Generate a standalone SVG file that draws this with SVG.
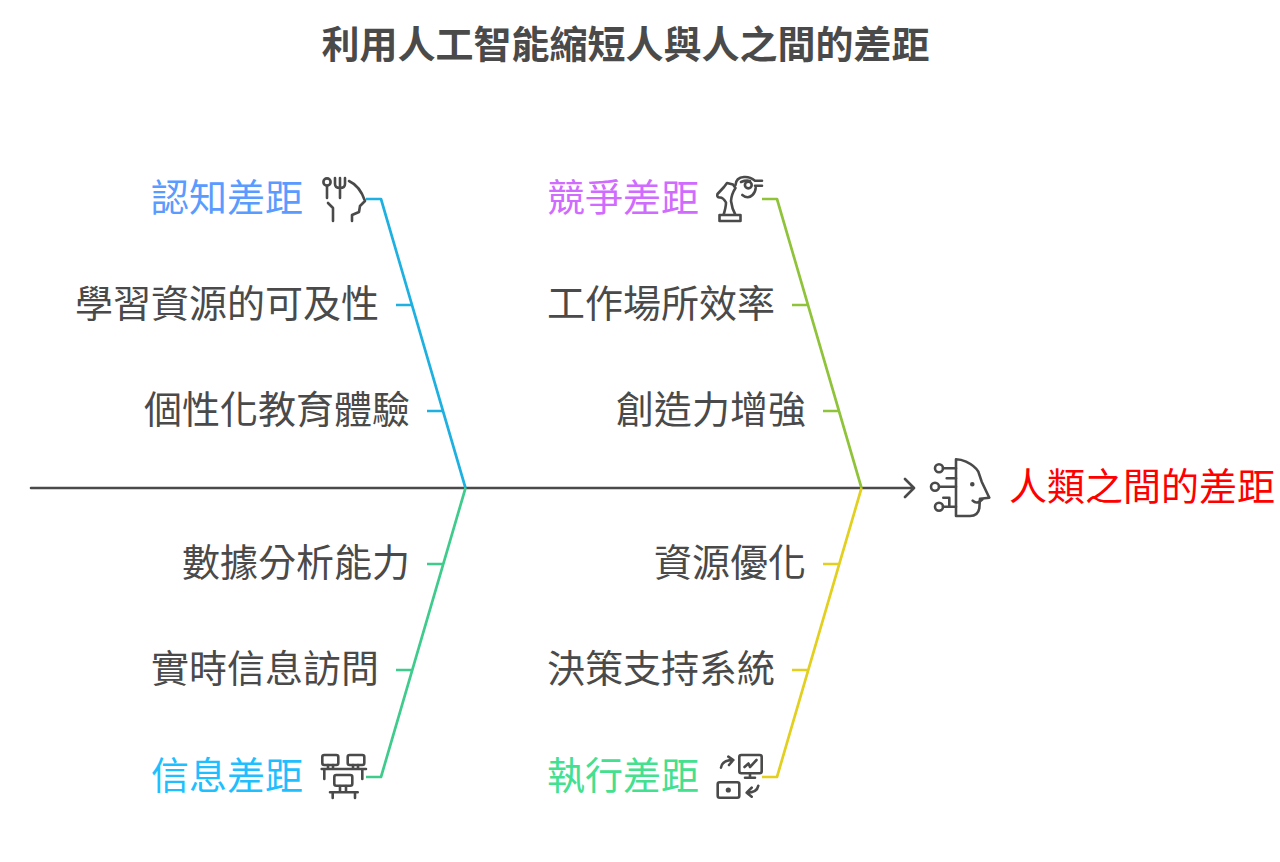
<svg xmlns="http://www.w3.org/2000/svg" width="1280" height="862" viewBox="0 0 1280 862">
<style>
text{font-family:"Noto Sans CJK TC","Noto Sans CJK SC",sans-serif;font-size:38px;fill:#4a4a4a;text-anchor:end;opacity:.999}
.title{font-weight:700;text-anchor:middle}
.wire{fill:none;stroke-width:2.7;stroke-linejoin:round}
.ico{fill:none;stroke:#4a4a4a;stroke-width:2.6;stroke-linecap:round;stroke-linejoin:round}
</style>
<rect width="1280" height="862" fill="#fff"/>
<text id="title" class="title" x="625.500" y="58">利用人工智能縮短人與人之間的差距</text>
<g id="connectors">
<path id="spine" d="M31 488H913M905 479L914 488L905 497" fill="none" stroke="#4a4a4a" stroke-width="2.6" stroke-linecap="round" stroke-linejoin="round"/>
<path class="wire" stroke="#1eb0e0" d="M366 199H381L465.500 488M396 305H412M427 411H443"/>
<path class="wire" stroke="#3ecb8c" d="M366 777H381L465.500 488M427 564H443M396 670H412"/>
<path class="wire" stroke="#8fc33a" d="M762 199H777L861.500 488M792 305H808M823 411H839"/>
<path class="wire" stroke="#e2cf1e" d="M762 777H777L861.500 488M823 564H839M792 670H808"/>
</g>
<g id="n-cognitive">
<text x="303" y="211" style="fill:#5a9bff">認知差距</text>
<g class="ico"><circle cx="327" cy="182" r="3.600"/><path d="M327 186V198M340 178V198M335 178V184Q335 188 340 188Q345 188 345 184V178M349 181Q360 186 365 201L360 206L359 212L352 215V221M328 203L333 208V221"/></g>
</g>
<g id="n-access"><text x="379" y="317">學習資源的可及性</text></g>
<g id="n-personal"><text x="410" y="423">個性化教育體驗</text></g>
<g id="n-competitive">
<text x="699" y="211" style="fill:#d06bff">競爭差距</text>
<g class="ico"><path d="M719.500 215H740.500V221H719.500ZM723.500 215Q726 207 726 202.500Q723 197 719.300 197.500Q716.500 197 717.500 194L724 187L727 183L733 184.500L735.500 188Q731.500 194 731 201Q732 209 735.500 215"/><circle cx="748.300" cy="185" r="3.400"/><path d="M735.500 185Q736 177.500 744 177Q750 176.500 755 180.700H762M741 182Q746 180 750 181M755 185.700H762M742.300 195Q748 199.500 752.500 195Q755.500 192 755.700 187.700"/></g>
</g>
<g id="n-efficiency"><text x="775" y="317">工作場所效率</text></g>
<g id="n-creative"><text x="806" y="423">創造力增強</text></g>
<g id="n-data"><text x="410" y="576">數據分析能力</text></g>
<g id="n-realtime"><text x="379" y="682">實時信息訪問</text></g>
<g id="n-information">
<text x="303" y="789" style="fill:#1fbfff">信息差距</text>
<g class="ico"><rect x="322.300" y="755" width="16" height="10" rx="2"/><rect x="347.700" y="755" width="16.600" height="10" rx="2"/><rect x="334.300" y="775" width="18" height="10.700" rx="2"/><path d="M321.700 769H366M324.300 769V779M362.300 769V779M328 765V769M333 765V769M353 765V769M358 765V769M330 792.300H357.700M332.700 792.300V798M355 792.300V798M340 786V792M346 786V792"/></g>
</g>
<g id="n-resource"><text x="806" y="576">資源優化</text></g>
<g id="n-decision"><text x="775" y="682">決策支持系統</text></g>
<g id="n-execution">
<text x="699" y="789" style="fill:#42e08f">執行差距</text>
<g class="ico"><rect x="739.300" y="755" width="22.400" height="18.300" rx="2"/><path d="M750 773.300V777.700M745 777.700H755M744.500 767L748.500 763.500L750 767L756.500 760M721 767.700Q722 760 733.300 760M728.300 756.700L733.300 760L729 765M758.300 785.700Q757 792.700 746.700 792.700M751.700 787.700L746.700 792.700L751.700 796.700"/><rect x="717.700" y="782.300" width="21.600" height="15.400" rx="2"/><circle cx="728.300" cy="790" r="1.300" fill="#4a4a4a"/></g>
</g>
<g id="n-effect">
<text x="1275" y="500" style="fill:#f00">人類之間的差距</text>
<g class="ico"><path d="M956 459.300Q961 459.300 966 461.700Q975 466 978.300 471.700L981.700 481.700L989.300 497.700L980 498.700L979.300 508.300Q978 516 970 516H956ZM972.700 500.700Q977 505 982.700 499"/><circle cx="939" cy="468.300" r="4"/><circle cx="935" cy="486.700" r="4"/><circle cx="939" cy="506.700" r="4"/><path d="M943 468.300H956M939 486.700H956M946.700 478.300H956M943 506.700H956M943.300 497.700H949.300V506.700"/><circle cx="972.300" cy="484.300" r="1" fill="#4a4a4a"/></g>
</g>
</svg>
